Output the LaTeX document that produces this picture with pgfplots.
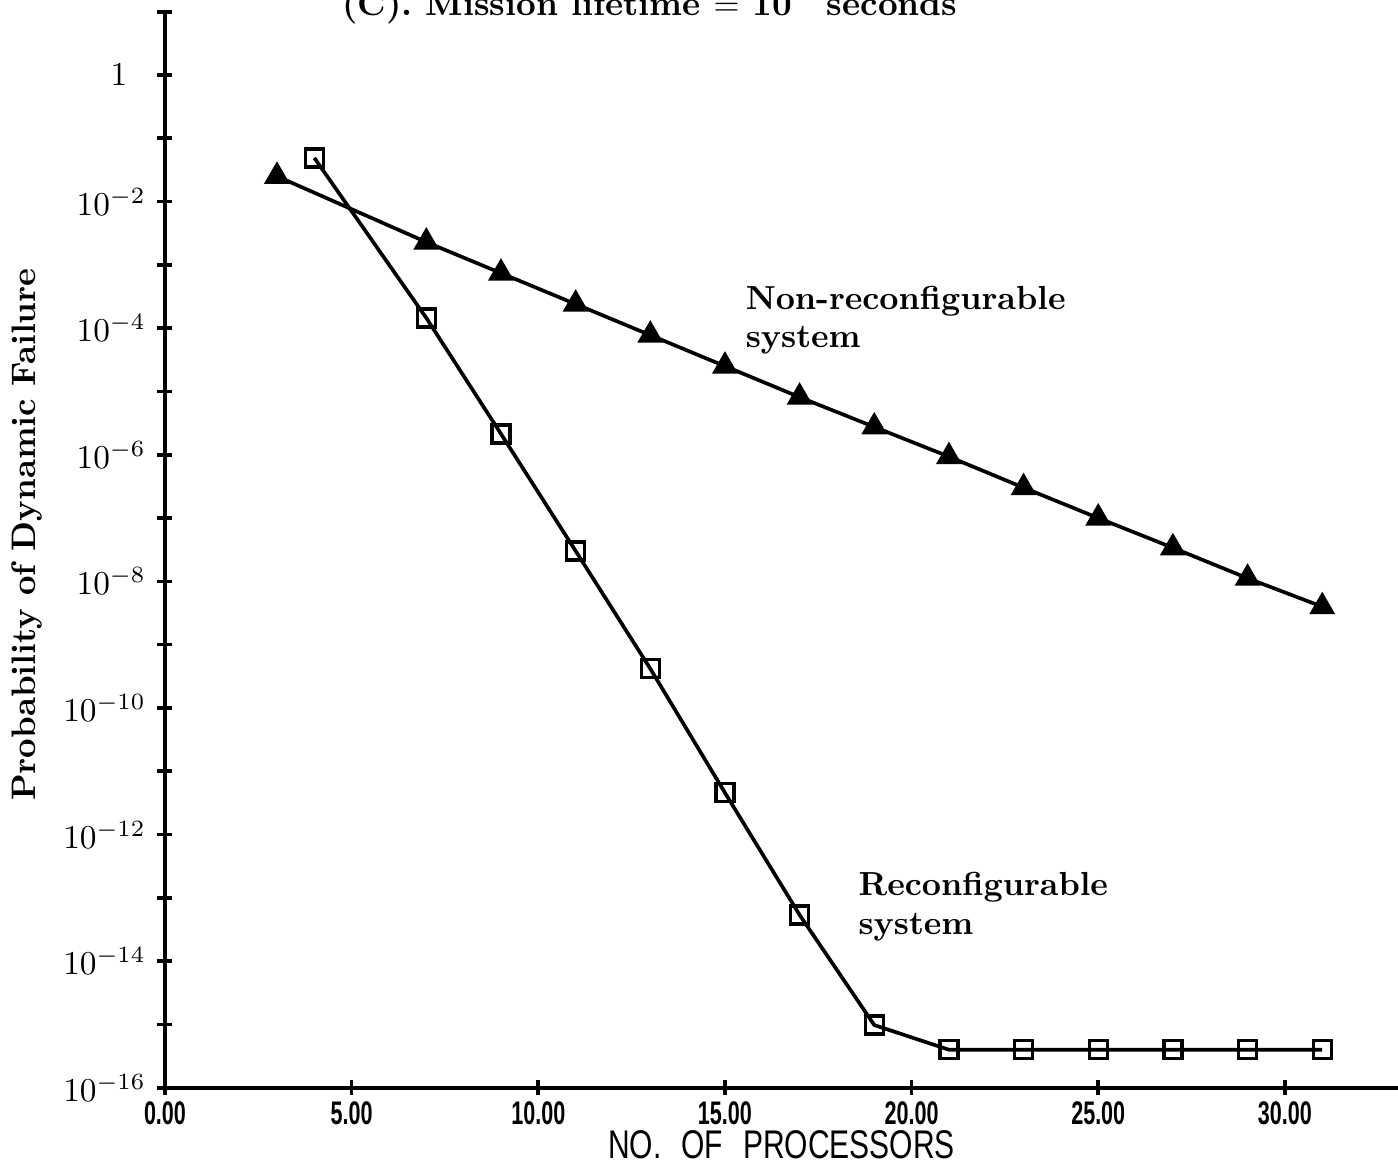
\documentclass[border=0pt]{standalone}
\usepackage{fontspec}
\usepackage{pgfplots}
\pgfplotsset{compat=1.18}
\newfontfamily\plotsf{Liberation Sans}[FakeStretch=0.75]
\newfontfamily\ticksf{Liberation Sans}[FakeStretch=0.66]

\begin{document}
\begin{tikzpicture}
  \begin{axis}[
    scale only axis,
    width=369.9pt,
    height=322.8pt,
    ymode=log,
    xmin=0, xmax=33.03,
    ymin=1e-16, ymax=10,
    axis x line=bottom,
    axis y line=left,
    axis line style={-, line width=1.2pt},
    tick align=center,
    major tick length=4.5pt,
    tick style={line width=1.1pt, black},
    xtick={0,5,10,15,20,25,30},
    xticklabels={0.00,5.00,10.00,15.00,20.00,25.00,30.00},
    xticklabel style={font=\ticksf\bfseries\fontsize{9.8}{11}\selectfont, yshift=1.5pt},
    ytick={1e1,1e0,1e-1,1e-2,1e-3,1e-4,1e-5,1e-6,1e-7,1e-8,1e-9,1e-10,1e-11,1e-12,1e-13,1e-14,1e-15,1e-16},
    yticklabels={{},{$1\hspace{5.5pt}$},{},{$10^{-2}$},{},{$10^{-4}$},{},{$10^{-6}$},{},{$10^{-8}$},{},{$10^{-10}$},{},{$10^{-12}$},{},{$10^{-14}$},{},{$10^{-16}$}},
    yticklabel style={font=\fontsize{9.6}{11}\selectfont},
    minor tick num=0,
    xlabel={NO.\hspace{6pt}OF\hspace{6pt}PROCESSORS},
    xlabel style={font=\plotsf\fontsize{12}{14}\selectfont, at={(axis description cs:0.5,-0.053)}, anchor=center},
    ylabel={Probability of Dynamic Failure},
    ylabel style={font=\bfseries\fontsize{10.2}{12}\selectfont, at={(axis description cs:-0.112,0.514)}, anchor=center},
    clip=false,
  ]
    % non-reconfigurable system
    \addplot[black, line width=1.1pt, mark=triangle*, mark size=3.4pt,
             mark options={solid}] coordinates {
      (3,2.51e-2) (7,2.29e-3) (9,7.41e-4) (11,2.40e-4) (13,7.76e-5)
      (15,2.51e-5) (17,8.13e-6) (19,2.75e-6) (21,9.33e-7) (23,3.02e-7)
      (25,1.00e-7) (27,3.39e-8) (29,1.12e-8) (31,3.98e-9)
    };
    % reconfigurable system
    \addplot[black, line width=1.1pt, mark=square, mark size=2.7pt,
             mark options={solid, line width=1pt}] coordinates {
      (4,4.90e-2) (7,1.45e-4) (9,2.14e-6) (11,3.02e-8) (13,4.17e-10)
      (15,4.57e-12) (17,5.37e-14) (19,9.77e-16) (21,3.98e-16) (23,3.98e-16)
      (25,3.98e-16) (27,3.98e-16) (29,3.98e-16) (31,3.98e-16)
    };

    \node[anchor=north west, align=left, inner sep=0pt, font=\bfseries]
      at (axis cs:15.54,4.79e-4) {Non-reconfigurable\\[-0.5pt]system};
    \node[anchor=north west, align=left, inner sep=0pt, font=\bfseries]
      at (axis cs:18.56,2.57e-13) {Reconfigurable\\[-0.5pt]system};

    \node[anchor=base, inner sep=0pt, font=\bfseries\fontsize{10.3}{12}\selectfont]
      at (axis cs:12.99,8.6) {(C). Mission lifetime $=$ 10$^{\raisebox{3pt}{4}}$ seconds};

    \coordinate (bbl) at (axis cs:-4.42,5.62e-18);
    \coordinate (btr) at (axis cs:33.03,15.3);
  \end{axis}
  \pgfresetboundingbox
  \useasboundingbox (bbl) rectangle (btr);
\end{tikzpicture}
\end{document}
